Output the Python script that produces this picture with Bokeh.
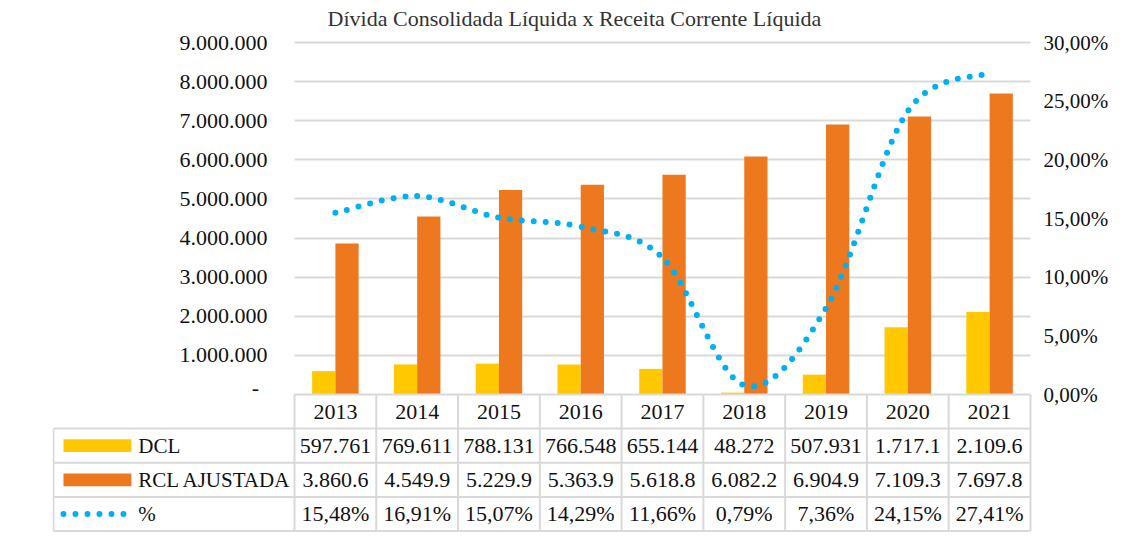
from bokeh.plotting import figure
from bokeh.models import Range1d, LinearAxis, FixedTicker, Grid, ColumnDataSource
from bokeh.transform import dodge
from bokeh.core.properties import value
from bokeh.embed import file_html
from bokeh.resources import INLINE

# ---------------- data ----------------
years = ["2013", "2014", "2015", "2016", "2017", "2018", "2019", "2020", "2021"]
dcl = [597761, 769611, 788131, 766548, 655144, 48272, 507931, 1717100, 2109600]
rcl = [3860600, 4549900, 5229900, 5363900, 5618800, 6082200, 6904900, 7109300, 7697800]
pct = [15.48, 16.91, 15.07, 14.29, 11.66, 0.79, 7.36, 24.15, 27.41]
series_names = ["DCL", "RCL AJUSTADA", "%"]
left_ticks = [0, 1000000, 2000000, 3000000, 4000000, 5000000, 6000000, 7000000, 8000000, 9000000]
right_ticks = [0, 5, 10, 15, 20, 25, 30]
zero_label = "-"
title_text = "Dívida Consolidada Líquida x Receita Corrente Líquida"

# ---------------- styles ----------------
C_DCL = "#FFC800"
C_RCL = "#EE781E"
C_PCT = "#00B0F0"
C_GRID = "#D9D9D9"
FONT = "Liberation Serif"
FS = "22px"
FS_S = "21px"
TXT = "#111111"


def br_int(v):
    return f"{int(round(v)):,}".replace(",", ".")


def br_pct(v):
    return f"{v:.2f}".replace(".", ",") + "%"


# ---------------- layout (figure pixels) ----------------
W, H = 1111, 532
FL, FR = 52, 1034        # frame left/right
FT, FB = 0, 532          # frame top/bottom
ZERO, TOP = 394, 42      # y of 0 and of the top tick
COL0, CW = 294.5, 81.94  # x of first category edge, category width
TL = 53                  # table left border
rows_px = [394, 428.1, 462.3, 496.4, 530.5]

xs, xe = (FL - COL0) / CW, (FR - COL0) / CW
PXM = (ZERO - TOP) / left_ticks[-1]
PXP = (ZERO - TOP) / right_ticks[-1]

p = figure(width=W, height=H,
           x_range=Range1d(xs, xe),
           y_range=Range1d(-(FB - ZERO) / PXM, (ZERO - FT) / PXM),
           x_axis_location=None, y_axis_location="left",
           toolbar_location=None, output_backend="svg",
           min_border_left=FL, min_border_right=W - FR,
           min_border_top=FT, min_border_bottom=H - FB)
p.outline_line_color = None
p.background_fill_color = "white"
p.border_fill_color = "white"
p.extra_y_ranges = {
    "pct": Range1d(-(FB - ZERO) / PXP, (ZERO - FT) / PXP),
    "tbl": Range1d(-(FB - ZERO), ZERO - FT),
}
p.ygrid.visible = False
p.xgrid.visible = False

# left axis (labels pushed into the frame area)
ya = p.yaxis[0]
ya.ticker = FixedTicker(ticks=left_ticks[1:])
ya.major_label_overrides = {t: br_int(t) for t in left_ticks[1:]}
ya.major_label_standoff = -(267 - FL)
ya.major_tick_out = 0
ya.major_tick_in = 0
ya.minor_tick_out = 0
ya.minor_tick_in = 0
ya.axis_line_color = None
ya.major_label_text_font = FONT
ya.major_label_text_font_size = FS
ya.major_label_text_color = TXT

# right axis
ra = LinearAxis(y_range_name="pct", ticker=FixedTicker(ticks=right_ticks))
ra.major_label_overrides = {t: br_pct(t) for t in right_ticks}
ra.major_label_standoff = 11
ra.major_tick_out = 0
ra.major_tick_in = 0
ra.minor_tick_out = 0
ra.minor_tick_in = 0
ra.axis_line_color = None
ra.major_label_text_font = FONT
ra.major_label_text_font_size = FS_S
ra.major_label_text_color = TXT
p.add_layout(ra, "right")

# gridlines over the chart area only
n = len(years)
if "cross_bounds" in Grid.properties():
    g = Grid(dimension=1, ticker=FixedTicker(ticks=left_ticks[1:]),
             grid_line_color=C_GRID, grid_line_width=2)
    g.cross_bounds = (0, n)
    p.add_layout(g)
else:
    p.segment(x0=[0] * (len(left_ticks) - 1), x1=[n] * (len(left_ticks) - 1),
              y0=left_ticks[1:], y1=left_ticks[1:], line_color=C_GRID, line_width=2,
              level="underlay")

# bars
xc = [i + 0.5 for i in range(n)]
src = ColumnDataSource(dict(x=xc, dcl=dcl, rcl=rcl, pct=pct))
bw = 23.3 / CW
p.vbar(x=dodge("x", -bw / 2), top="dcl", bottom=0, width=bw, source=src,
       fill_color=C_DCL, line_color=None)
p.vbar(x=dodge("x", bw / 2), top="rcl", bottom=0, width=bw, source=src,
       fill_color=C_RCL, line_color=None)

# smoothed dotted line (bezier segments, control points from neighbours)
pts = list(zip(xc, pct))
bz = dict(x0=[], y0=[], x1=[], y1=[], cx0=[], cy0=[], cx1=[], cy1=[], off=[])
acc = 0.0
for k in range(n - 1):
    P0 = pts[k - 1] if k > 0 else pts[k]
    P1 = pts[k]
    P2 = pts[k + 1]
    P3 = pts[k + 2] if k + 2 < n else pts[k + 1]
    c0 = (P1[0] + (P2[0] - P0[0]) / 6, P1[1] + (P2[1] - P0[1]) / 6)
    c1 = (P2[0] - (P3[0] - P1[0]) / 6, P2[1] - (P3[1] - P1[1]) / 6)
    bz["x0"].append(P1[0]); bz["y0"].append(P1[1])
    bz["x1"].append(P2[0]); bz["y1"].append(P2[1])
    bz["cx0"].append(c0[0]); bz["cy0"].append(c0[1])
    bz["cx1"].append(c1[0]); bz["cy1"].append(c1[1])
    bz["off"].append(int(round(acc)) % 12)

    # screen length of this segment, to keep the dot rhythm continuous
    def scr(t):
        a = (1 - t) ** 3; b = 3 * (1 - t) ** 2 * t; c = 3 * (1 - t) * t ** 2; d = t ** 3
        x = a * P1[0] + b * c0[0] + c * c1[0] + d * P2[0]
        y = a * P1[1] + b * c0[1] + c * c1[1] + d * P2[1]
        return (x * CW, y * PXP)
    prev = scr(0.0)
    for s in range(1, 101):
        cur = scr(s / 100)
        acc += ((cur[0] - prev[0]) ** 2 + (cur[1] - prev[1]) ** 2) ** 0.5
        prev = cur
p.bezier(x0="x0", y0="y0", x1="x1", y1="y1", cx0="cx0", cy0="cy0", cx1="cx1", cy1="cy1",
         source=ColumnDataSource(bz), y_range_name="pct", line_color=C_PCT, line_width=6,
         line_dash="0 12", line_dash_offset="off", line_cap="round")

# ---------------- data table ----------------
ry = [ZERO - r for r in rows_px]  # table rows in px above zero line
xl = (TL - COL0) / CW
hx0 = [0] + [xl] * (len(ry) - 1)
hx1 = [n] * len(ry)
p.segment(x0=hx0, x1=hx1, y0=ry, y1=ry, y_range_name="tbl", line_color=C_GRID, line_width=2)
vx = [xl] + list(range(n + 1))
vy0 = [ry[1]] + [ry[0]] * (n + 1)
vy1 = [ry[-1]] * (n + 2)
p.segment(x0=vx, x1=vx, y0=vy0, y1=vy1, y_range_name="tbl", line_color=C_GRID, line_width=2)

rc = [(ry[i] + ry[i + 1]) / 2 for i in range(len(ry) - 1)]
txt_kw = dict(text_font=value(FONT), text_color=TXT, y_range_name="tbl")
p.text(x=xc, y=[rc[0]] * n, text=years, text_align="center", text_baseline="middle",
       text_font_size=FS, **txt_kw)
p.text(x=xc, y=[rc[1]] * n, text=[br_int(v)[:7] for v in dcl], text_align="center",
       text_baseline="middle", text_font_size=FS, **txt_kw)
p.text(x=xc, y=[rc[2]] * n, text=[br_int(v)[:7] for v in rcl], text_align="center",
       text_baseline="middle", text_font_size=FS, **txt_kw)
p.text(x=xc, y=[rc[3]] * n, text=[br_pct(v) for v in pct], text_align="center",
       text_baseline="middle", text_font_size=FS, **txt_kw)

# legend keys in first column
kx0, kx1 = (63 - COL0) / CW, (131 - COL0) / CW
p.rect(x=[(kx0 + kx1) / 2] * 2, y=rc[1:3], width=kx1 - kx0, height=12.7, y_range_name="tbl",
       fill_color=[C_DCL, C_RCL], line_color=None)
p.segment(x0=[(63 - COL0) / CW], x1=[(123.5 - COL0) / CW], y0=[rc[3]], y1=[rc[3]],
          y_range_name="tbl", line_color=C_PCT, line_width=6, line_dash="0 12", line_cap="round")
p.text(x=[(138 - COL0) / CW] * 3, y=rc[1:4], text=series_names, text_align="left",
       text_baseline="middle", text_font_size=FS_S, **txt_kw)

# zero label of the left scale (accounting-style dash, sits a little above the base)
p.text(x=[(259 - COL0) / CW], y=[7], text=[zero_label], text_align="right",
       text_baseline="middle", text_font_size=FS, **txt_kw)

# title
p.text(x=[(575 - COL0) / CW], y=[ZERO - 18], text=[title_text], text_align="center",
       text_baseline="alphabetic", text_font=value(FONT), text_font_size="22px",
       text_color="#333333", y_range_name="tbl")

open("out.html", "w").write(file_html(p, INLINE))
